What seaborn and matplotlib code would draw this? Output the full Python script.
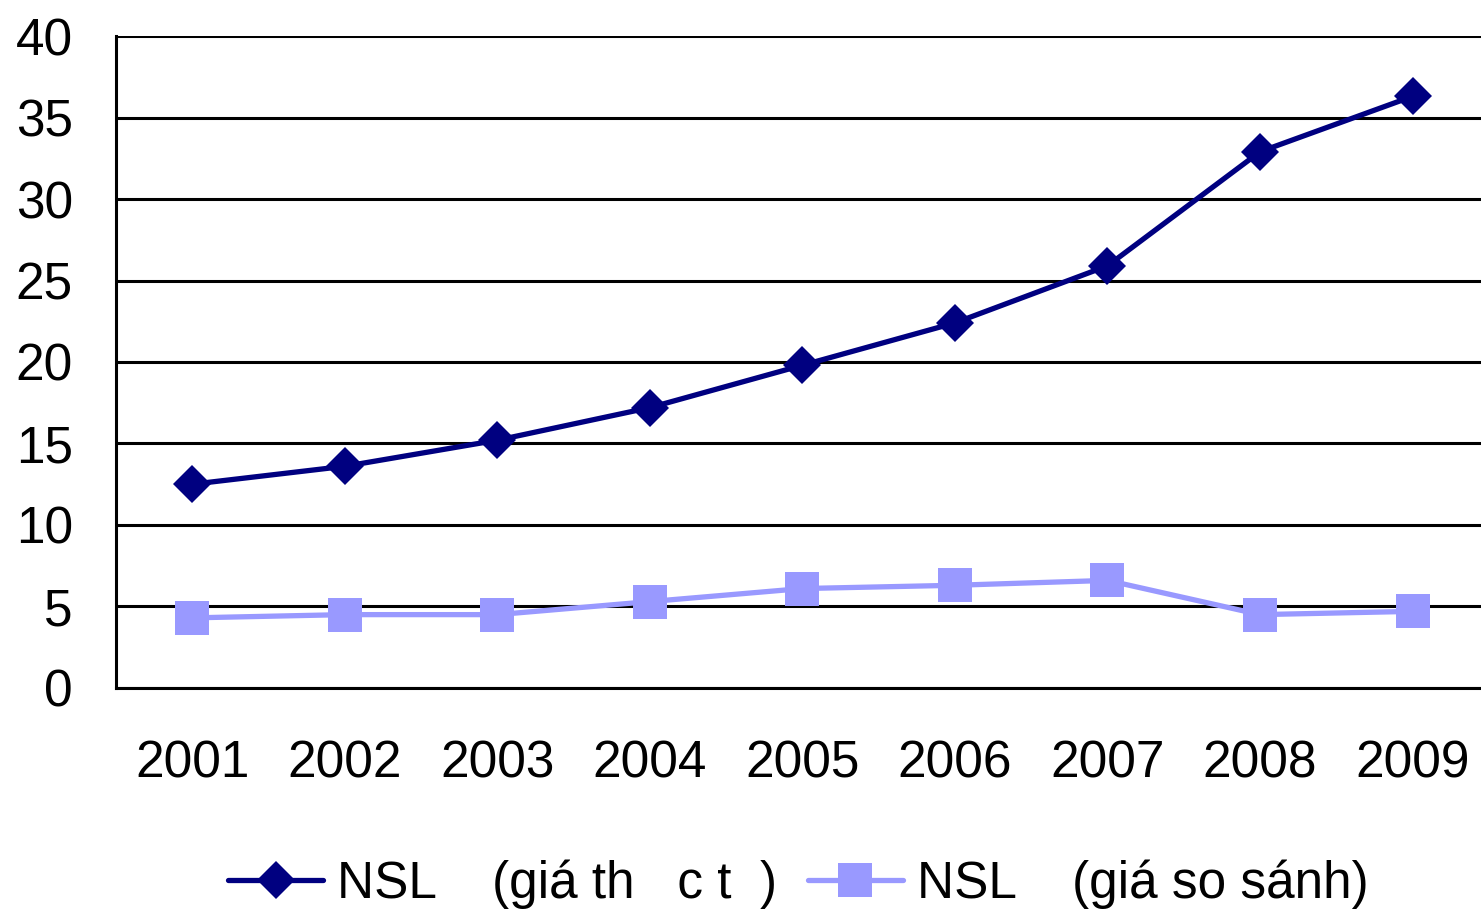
import pandas as pd
import matplotlib.pyplot as plt
import seaborn as sns

# values
years = ["2001", "2002", "2003", "2004", "2005", "2006", "2007", "2008", "2009"]
nsl_current = [12.5, 13.6, 15.2, 17.2, 19.8, 22.4, 25.9, 32.9, 36.3]
nsl_compare = [4.3, 4.5, 4.5, 5.3, 6.1, 6.3, 6.6, 4.5, 4.7]
label_current = "NSL    (giá th   c t  )"
label_compare = "NSL    (giá so sánh)"

df = pd.DataFrame({
    "pos": list(range(len(years))) * 2,
    "value": nsl_current + nsl_compare,
    "series": [label_current] * len(years) + [label_compare] * len(years),
})

sns.set_style("white")
plt.rcParams["font.family"] = ["Liberation Sans", "DejaVu Sans"]
plt.rcParams["text.color"] = "black"

fig = plt.figure(figsize=(14.81, 9.10), dpi=100)
ax = fig.add_axes([0.0783, 0.244, 0.927, 0.7164])

sns.lineplot(data=df, x="pos", y="value", hue="series", style="series",
             palette={label_current: "#000080", label_compare: "#9999FF"},
             markers={label_current: "D", label_compare: "s"},
             dashes=False, linewidth=3.8, markeredgewidth=0,
             ax=ax, legend=False)
for line, ms in zip(ax.lines, [19.5, 24]):
    line.set_markersize(ms)

ax.set_xlim(-0.5, len(years) - 0.5)
ax.set_ylim(0, 40)
ax.set_yticks(range(0, 41, 5))
ax.yaxis.grid(True, color="black", linewidth=2.2)
ax.set_axisbelow(True)

ax.set_xticks(range(len(years)))
ax.set_xticklabels(years)
ax.set_xticks([i - 0.5 for i in range(len(years) + 1)], minor=True)
ax.tick_params(axis="x", which="major", length=0, pad=37, labelsize=37, labelcolor="black")
ax.tick_params(axis="x", which="minor", length=12, width=2.2, color="black", direction="out")
ax.tick_params(axis="y", length=12, width=2.2, color="black", direction="out", pad=19,
               labelsize=37, labelcolor="black")

for side in ["top", "right"]:
    ax.spines[side].set_visible(False)
for side in ["left", "bottom"]:
    ax.spines[side].set_color("black")
    ax.spines[side].set_linewidth(2.2)

ax.set_xlabel("")
ax.set_ylabel("")

handles = [
    plt.Line2D([], [], color="#000080", marker="D", markersize=19.5, markeredgewidth=0, linewidth=3.8),
    plt.Line2D([], [], color="#9999FF", marker="s", markersize=24, markeredgewidth=0, linewidth=3.8),
]
fig.legend(handles, [label_current, label_compare], loc="lower center",
           bbox_to_anchor=(0.539, -0.05), ncol=2, frameon=False, fontsize=37,
           handlelength=1.85, handletextpad=0.27, columnspacing=0.6)

fig.savefig("out.png", dpi=100)
